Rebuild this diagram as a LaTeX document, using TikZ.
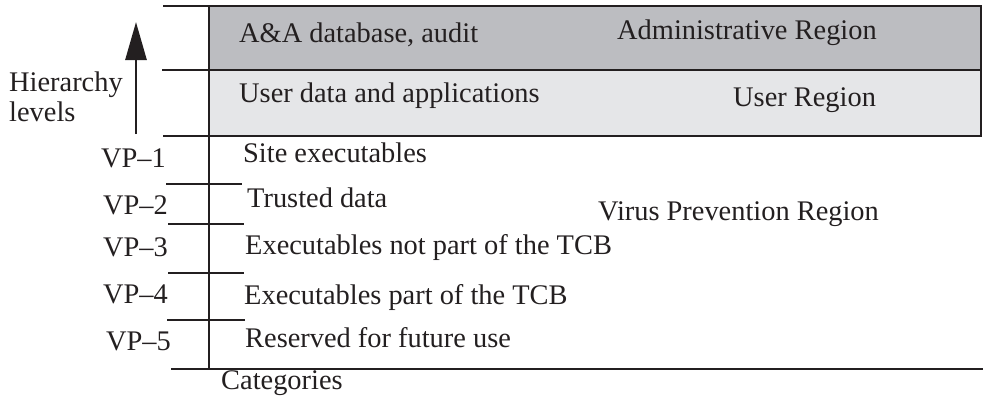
\documentclass[tikz,border=0pt]{standalone}
\usepackage{fontspec}
\setmainfont{Liberation Serif}
\usetikzlibrary{arrows.meta}
\definecolor{ink}{HTML}{231F20}
\definecolor{admin}{HTML}{BCBDC1}
\definecolor{userc}{HTML}{E5E6E8}
\begin{document}
\begin{tikzpicture}[x=1pt,y=-1pt,
  rule/.style={draw=ink,line width=2.8pt},
  lbl/.style={anchor=base west,inner sep=0pt,text=ink,font=\fontsize{28.4}{32}\selectfont}]
\useasboundingbox (0,0) rectangle (983,400);
% region fills
\fill[admin] (209,6) rectangle (981,70);
\fill[userc] (209,70) rectangle (981,136);
% coordinates
\coordinate (t0) at (163,6);   \coordinate (t1) at (981,6);
\coordinate (a0) at (162,70);  \coordinate (a1) at (981,70);
\coordinate (u0) at (163,136); \coordinate (u1) at (981,136);
\coordinate (v0) at (209,6);   \coordinate (v1) at (209,369);
\coordinate (b0) at (171,369); \coordinate (b1) at (983,369);
\coordinate (k1a) at (166,184);   \coordinate (k1b) at (242,184);
\coordinate (k2a) at (168,224);   \coordinate (k2b) at (244,224);
\coordinate (k3a) at (168,273);   \coordinate (k3b) at (244,273);
\coordinate (k4a) at (167,320);   \coordinate (k4b) at (245,320);
\coordinate (arB) at (136,134);   \coordinate (arT) at (136,22);
% lines
\draw[rule] (t0) -- (t1) -- (u1) -- (u0);
\draw[rule] (a0) -- (a1);
\draw[rule] (v0) -- (v1);
\draw[rule] (b0) -- (b1);
\draw[rule] (k1a) -- (k1b);
\draw[rule] (k2a) -- (k2b);
\draw[rule] (k3a) -- (k3b);
\draw[rule] (k4a) -- (k4b);
\draw[draw=ink,line width=2.8pt,-{Triangle[length=38pt,width=21pt]}] (arB) -- (arT);
% texts
\node[lbl] (hier) at (9,91) {Hierarchy};
\node[lbl] (lev) at (9,121) {levels};
\node[lbl] (aa) at (239,42) {A\&A database, audit};
\node[lbl] (adm) at (617,39) {Administrative Region};
\node[lbl] (ud) at (239,102) {User data and applications};
\node[lbl] (ur) at (733,106) {User Region};
\node[lbl] (vp1) at (101,167) {VP–1};
\node[lbl] (vp2) at (103,214) {VP–2};
\node[lbl] (vp3) at (103,256) {VP–3};
\node[lbl] (vp4) at (103,303) {VP–4};
\node[lbl] (vp5) at (106,350) {VP–5};
\node[lbl] (c1) at (243,162) {Site executables};
\node[lbl] (c2) at (247,207) {Trusted data};
\node[lbl] (c3) at (245,254) {Executables not part of the TCB};
\node[lbl] (c4) at (244,304) {Executables part of the TCB};
\node[lbl] (c5) at (245,347) {Reserved for future use};
\node[lbl] (vpr) at (598,220) {Virus Prevention Region};
\node[lbl] (cat) at (221,389) {Categories};
\end{tikzpicture}
\end{document}
